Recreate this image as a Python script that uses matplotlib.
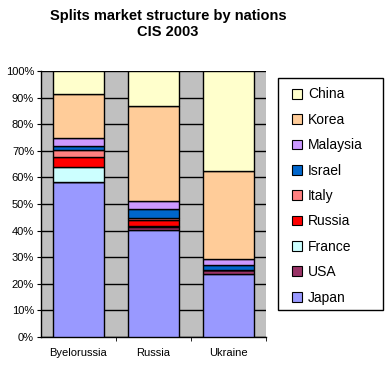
import matplotlib.pyplot as plt
import numpy as np
from matplotlib.patches import Patch, Rectangle

plt.rcParams['font.family'] = ['Liberation Sans', 'DejaVu Sans']

regions = ["Byelorussia", "Russia", "Ukraine"]
nations = ["Japan", "USA", "France", "Russia", "Italy", "Israel", "Malaysia", "Korea", "China"]
colors = ["#9999FF", "#993366", "#CCFFFF", "#FF0000", "#FF8080",
          "#0066CC", "#CC99FF", "#FFCC99", "#FFFFCC"]

# shares (%) per nation, order: Byelorussia, Russia, Ukraine
japan = [58.4, 40.3, 23.5]
usa = [0.0, 1.0, 1.6]
france = [5.6, 0.6, 0.0]
russia = [3.6, 1.9, 0.0]
italy = [2.8, 1.1, 0.0]
israel = [1.5, 3.4, 1.8]
malaysia = [3.0, 3.0, 2.6]
korea = [16.5, 35.6, 33.0]
china = [8.6, 13.1, 37.5]

shares = [japan, usa, france, russia, italy, israel, malaysia, korea, china]

fig = plt.figure(figsize=(3.85, 3.66), dpi=100)
ax = fig.add_axes([41 / 385, 29 / 366, 225 / 385, 266 / 366])
ax.set_facecolor("#C0C0C0")

x = np.arange(len(regions))
bottom = np.zeros(len(regions))
for name, vals, c in zip(nations, shares, colors):
    ax.bar(x, vals, 0.667, bottom=bottom, color=c, edgecolor="black",
           linewidth=1, label=name, zorder=3)
    bottom += np.array(vals)

ax.set_xlim(-0.5, 2.5)
ax.set_ylim(0, 100)
ax.set_yticks(np.arange(0, 101, 10))
ax.set_yticklabels([f"{v}%" for v in range(0, 101, 10)], fontsize=8)
ax.yaxis.grid(True, color="black", linewidth=1, zorder=0)
ax.set_axisbelow(True)
ax.set_xticks(x)
ax.set_xticklabels(regions, fontsize=8)
ax.tick_params(axis="x", length=0, pad=8)
ax.set_xticks([0.5, 1.5, 2.5], minor=True)
ax.tick_params(axis="x", which="minor", length=3, direction="out")
ax.tick_params(axis="y", length=3, direction="out", pad=2)
for s in ["top", "right"]:
    ax.spines[s].set_visible(False)
ax.spines["left"].set_linewidth(1)
ax.spines["bottom"].set_linewidth(1)

fig.text(168 / 385, 1 - 24 / 366, "Splits market structure by nations\nCIS 2003",
         ha="center", va="center", fontsize=10.5, fontweight="bold", linespacing=1.25)

# legend box drawn by hand so its size matches
fig.patches.append(Rectangle((278 / 385, 1 - 310 / 366), 105 / 385, 232 / 366,
                             transform=fig.transFigure, facecolor="white",
                             edgecolor="black", linewidth=1, zorder=1))
handles = [Patch(facecolor=c, edgecolor="black", linewidth=0.8) for c in colors][::-1]
leg = fig.legend(handles, nations[::-1], loc="upper left",
                 bbox_to_anchor=(292 / 385, 1 - 87.5 / 366), fontsize=10,
                 handlelength=0.7, handleheight=0.7, handletextpad=0.45,
                 labelspacing=0.82, borderpad=0, borderaxespad=0,
                 frameon=False)

fig.savefig("out.png", dpi=100)
